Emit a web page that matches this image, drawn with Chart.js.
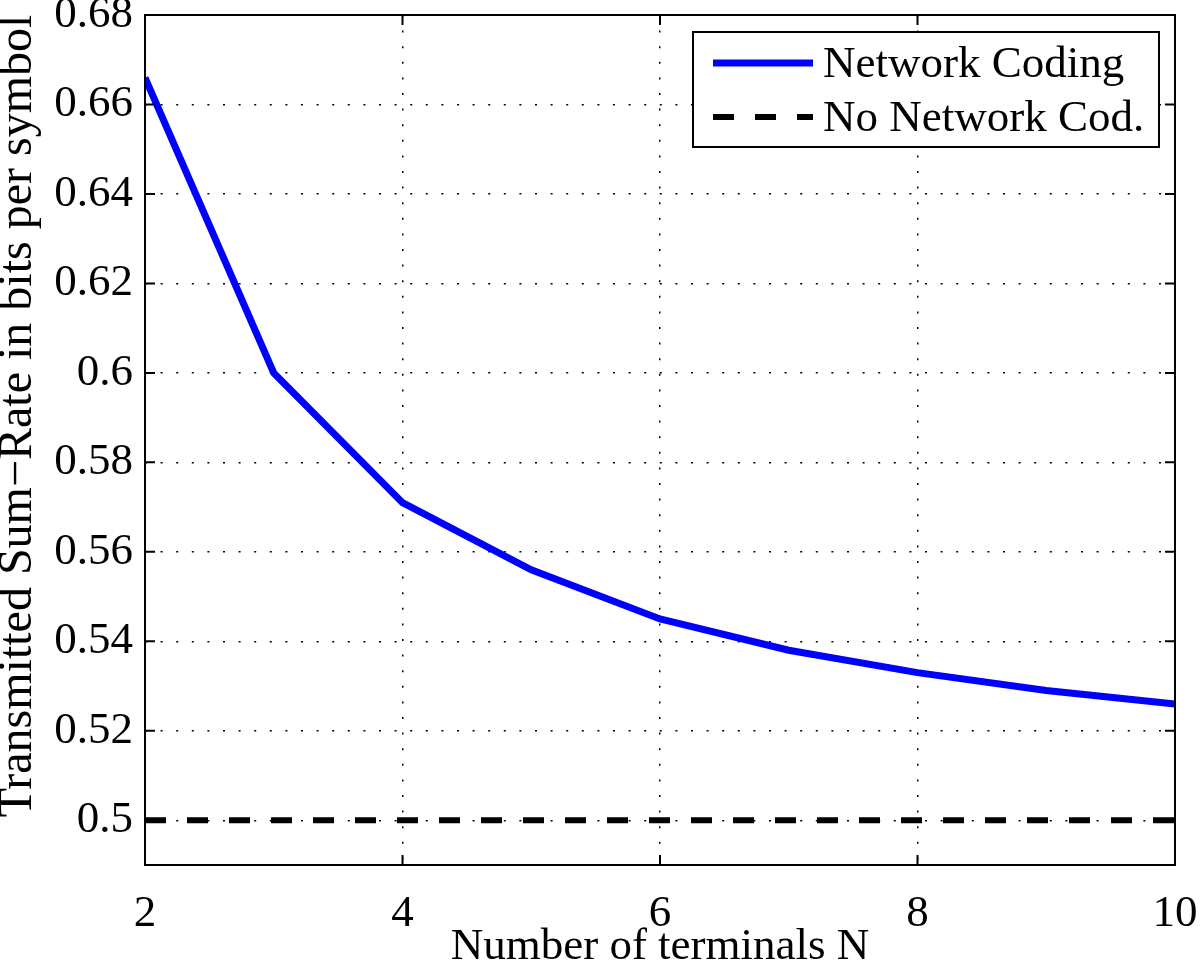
<!DOCTYPE html>
<html>
<head>
<meta charset="utf-8">
<script src="https://cdn.jsdelivr.net/npm/chart.js"></script>
<style>
  html, body { margin: 0; padding: 0; background: #fff; }
  canvas { display: block; }
</style>
</head>
<body>
<canvas id="chart" width="1200" height="965"></canvas>
<script>
// values
const terminals = [2, 3, 4, 5, 6, 7, 8, 9, 10];
const sumRateNC = [0.666, 0.600, 0.571, 0.556, 0.545, 0.538, 0.533, 0.529, 0.526];
const sumRateNoNC = [0.5, 0.5, 0.5, 0.5, 0.5, 0.5, 0.5, 0.5, 0.5];
const xTicks = [2, 4, 6, 8, 10];
const yTicks = [0.5, 0.52, 0.54, 0.56, 0.58, 0.6, 0.62, 0.64, 0.66, 0.68];
const seriesNames = ['Network Coding', 'No Network Cod.'];

const FONT = 'Liberation Serif, Times New Roman, serif';

const toPoints = (xs, ys) => xs.map((x, i) => ({ x, y: ys[i] }));

// MATLAB style box: frame on all sides with inward tick marks
const boxPlugin = {
  id: 'box',
  afterDatasetsDraw(chart) {
    const { ctx, chartArea: a, scales } = chart;
    const len = 10;
    ctx.save();
    ctx.strokeStyle = '#000';
    ctx.lineWidth = 2;
    ctx.strokeRect(a.left, a.top, a.right - a.left, a.bottom - a.top);
    ctx.beginPath();
    xTicks.forEach(v => {
      const px = scales.x.getPixelForValue(v);
      ctx.moveTo(px, a.bottom); ctx.lineTo(px, a.bottom - len);
      ctx.moveTo(px, a.top); ctx.lineTo(px, a.top + len);
    });
    yTicks.forEach(v => {
      const py = scales.y.getPixelForValue(v);
      ctx.moveTo(a.left, py); ctx.lineTo(a.left + len, py);
      ctx.moveTo(a.right, py); ctx.lineTo(a.right - len, py);
    });
    ctx.stroke();
    ctx.restore();
  }
};

// boxed legend in the upper right corner
const legendPlugin = {
  id: 'boxLegend',
  afterDraw(chart) {
    const { ctx } = chart;
    const x0 = 693, y0 = 32, w = 466, h = 115;
    ctx.save();
    ctx.fillStyle = '#fff';
    ctx.fillRect(x0, y0, w, h);
    ctx.strokeStyle = '#000';
    ctx.lineWidth = 2;
    ctx.strokeRect(x0, y0, w, h);
    ctx.font = '45px ' + FONT;
    ctx.textBaseline = 'middle';
    chart.data.datasets.forEach((ds, i) => {
      const y = y0 + 31 + i * 54;
      ctx.beginPath();
      ctx.strokeStyle = ds.borderColor;
      ctx.lineWidth = ds.borderWidth;
      ctx.setLineDash(ds.borderDash || []);
      ctx.moveTo(x0 + 20, y);
      ctx.lineTo(x0 + 120, y);
      ctx.stroke();
      ctx.setLineDash([]);
      ctx.fillStyle = '#000';
      ctx.fillText(ds.label, x0 + 130, y + 2);
    });
    ctx.restore();
  }
};

const dotted = [2, 13.6];

new Chart(document.getElementById('chart'), {
  type: 'line',
  data: {
    datasets: [
      {
        label: seriesNames[0],
        data: toPoints(terminals, sumRateNC),
        borderColor: '#0000ff',
        borderWidth: 7,
        pointRadius: 0,
        tension: 0
      },
      {
        label: seriesNames[1],
        data: toPoints(terminals, sumRateNoNC),
        borderColor: '#000000',
        borderWidth: 6,
        borderDash: [21, 21],
        pointRadius: 0,
        tension: 0
      }
    ]
  },
  options: {
    responsive: false,
    animation: false,
    devicePixelRatio: 1,
    layout: { padding: { top: 15, right: 25, left: 0, bottom: 0 } },
    plugins: {
      legend: { display: false },
      tooltip: { enabled: false }
    },
    scales: {
      x: {
        type: 'linear',
        min: 2,
        max: 10,
        afterBuildTicks: s => { s.ticks = xTicks.map(v => ({ value: v })); },
        afterFit: s => { s.height = 100; s.paddingLeft = 0; s.paddingRight = 0; },
        ticks: {
          color: '#000',
          font: { family: FONT, size: 45 },
          padding: 22,
          maxRotation: 0
        },
        grid: {
          color: '#000',
          lineWidth: 1.5,
          drawTicks: false
        },
        border: { display: false, dash: dotted },
        title: {
          display: true,
          text: 'Number of terminals N',
          color: '#000',
          font: { family: FONT, size: 45, lineHeight: 0.8 },
          padding: { top: 0, bottom: 0 }
        }
      },
      y: {
        type: 'linear',
        min: 0.49,
        max: 0.68,
        afterBuildTicks: s => { s.ticks = yTicks.map(v => ({ value: v })); },
        afterFit: s => { s.width = 145; s.paddingTop = 0; s.paddingBottom = 0; },
        ticks: {
          color: '#000',
          font: { family: FONT, size: 45 },
          padding: 12,
          callback: v => String(+v.toFixed(2))
        },
        grid: {
          color: '#000',
          lineWidth: 1.5,
          drawTicks: false
        },
        border: { display: false, dash: dotted },
        title: {
          display: true,
          text: '    Transmitted Sum\u2212Rate in bits per symbol',
          color: '#000',
          font: { family: FONT, size: 48, lineHeight: 0.75 },
          padding: { top: 0, bottom: 0 }
        }
      }
    }
  },
  plugins: [boxPlugin, legendPlugin]
});
</script>
</body>
</html>
